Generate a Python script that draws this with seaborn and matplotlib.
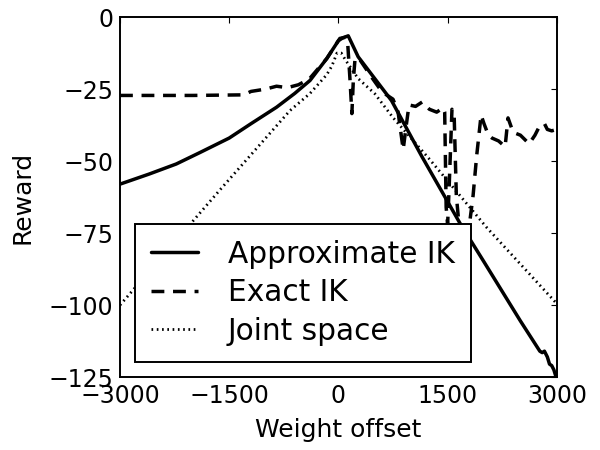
import pandas as pd
import matplotlib
matplotlib.use("Agg")
import matplotlib.pyplot as plt
import seaborn as sns

sns.set_style("white")
plt.rcParams["font.family"] = ["DejaVu Sans"]
plt.rcParams["text.color"] = "k"
plt.rcParams["axes.labelcolor"] = "k"

## DATA
approx_x = [-3000, -2600, -2227, -1900, -1500, -1200, -850, -600, -390, -160, 0, 60, 135,
            272, 730, 1142, 1668, 2000, 2500, 2767, 2800, 2830, 2870, 2900, 2930, 2960, 2990, 3000]
approx_y = [-58, -54.5, -51, -47, -42, -37, -31.3, -26.5, -22, -14.4, -8.2, -7.2, -6.5,
            -13.8, -29, -48.2, -71.5, -85, -105.5, -116, -116.5, -116, -118, -120.5, -121, -122.5, -125, -126]

exact_x = [-3000, -2000, -1300, -1200, -1000, -850, -700, -550, -400, -160, 20, 100, 130, 160, 185,
           205, 230, 300, 460, 600, 750, 820, 890, 930, 970, 1060, 1150, 1250, 1350, 1440,
           1460, 1480, 1500, 1520, 1560, 1590, 1620, 1660, 1720, 1800, 1850, 1900, 1960, 2000,
           2060, 2110, 2200, 2290, 2330, 2400, 2500, 2620, 2700, 2760, 2830, 2870, 2930, 3000]
exact_y = [-27.2, -27.2, -27, -25.8, -25, -24, -24.5, -23.5, -21.5, -14.4, -7.4, -7, -10, -22, -33.5,
           -22, -14, -15, -21, -26, -28.5, -33, -46, -38, -30.5, -31, -29.5, -32, -33, -31.5,
           -33, -66, -72, -60, -32, -34, -62, -73, -74, -72, -62, -48, -34, -37,
           -41, -42, -43, -45, -35, -40, -41, -44, -41, -38, -37, -39, -39.5, -39]

joint_x = [-3000, -1627, -667, -390, -160, -90, -20, 40, 100, 270, 500, 750, 1240, 2035, 3000]
joint_y = [-100, -60, -32.5, -26.5, -20, -17, -12.5, -12.5, -15, -21.3, -26.6, -34.9, -49, -73, -99.5]

x_ticks = [-3000, -1500, 0, 1500, 3000]
y_ticks = [0, -25, -50, -75, -100, -125]

approx = pd.DataFrame({"offset": approx_x, "reward": approx_y})
exact = pd.DataFrame({"offset": exact_x, "reward": exact_y})
joint = pd.DataFrame({"offset": joint_x, "reward": joint_y})

## PLOT
fig = plt.figure(figsize=(6, 4.5), dpi=100)
ax = fig.add_axes([0.2, 0.162, 0.728, 0.8])

sns.lineplot(data=approx, x="offset", y="reward", ax=ax, color="k", lw=2.5,
             label="Approximate IK", sort=False)
sns.lineplot(data=exact, x="offset", y="reward", ax=ax, color="k", lw=2.5,
             linestyle=(0, (3.7, 2.5)), label="Exact IK", sort=False)
sns.lineplot(data=joint, x="offset", y="reward", ax=ax, color="k", lw=2.0,
             linestyle=(0, (0.6, 1.3)), label="Joint space", sort=False)

ax.set_xlim(-3000, 3000)
ax.set_ylim(-125, 0)
ax.set_xticks(x_ticks)
ax.set_yticks(y_ticks)
ax.set_xlabel("Weight offset", fontsize=18, labelpad=7)
ax.set_ylabel("Reward", fontsize=18, labelpad=10)
ax.tick_params(direction="in", top=True, right=True, length=4.5, width=0.8,
               labelsize=17, colors="k")
ax.tick_params(axis="x", pad=5)
ax.tick_params(axis="y", pad=5)
for sp in ax.spines.values():
    sp.set_visible(True)
    sp.set_color("k")
    sp.set_linewidth(1.4)

leg = ax.legend(loc="lower left", bbox_to_anchor=(0.034, 0.042), borderaxespad=0,
                fontsize=21.3, fancybox=False, framealpha=1, edgecolor="k",
                handlelength=1.6, handletextpad=1.0, borderpad=0.55, labelspacing=0.32)
leg.get_frame().set_linewidth(1.4)

fig.savefig("out.png", dpi=100)
